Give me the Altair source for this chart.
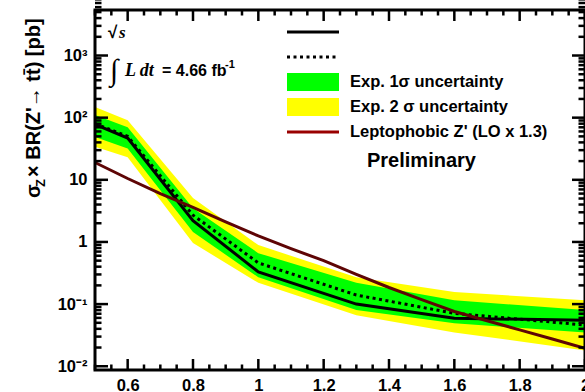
import altair as alt
import pandas as pd

# ---------------- data ----------------
mass = [0.5, 0.6, 0.8, 1.0, 1.3, 1.6, 2.0]
observed = [78, 47, 2.2, 0.33, 0.10, 0.059, 0.055]
expected = [80, 50, 2.7, 0.46, 0.14, 0.071, 0.046]
exp1_lo = [49, 32, 1.44, 0.27, 0.080, 0.049, 0.035]
exp1_hi = [110, 70, 3.5, 0.66, 0.22, 0.115, 0.080]
exp2_lo = [34, 23, 0.96, 0.22, 0.066, 0.035, 0.018]
exp2_hi = [148, 91, 5.1, 0.89, 0.27, 0.156, 0.115]

theory_mass = [0.5, 0.6, 0.7, 0.8, 0.9, 1.0, 1.1, 1.2, 1.3, 1.4, 1.5, 1.6, 1.7, 1.8, 1.9, 2.0]
theory_xsec = [19, 10.5, 6.0, 3.6, 2.1, 1.25, 0.78, 0.50, 0.30, 0.185, 0.118,
               0.076, 0.054, 0.0385, 0.0275, 0.0195]

x_major = [0.6, 0.8, 1.0, 1.2, 1.4, 1.6, 1.8, 2.0]
x_minor = [0.5, 0.55, 0.65, 0.7, 0.75, 0.85, 0.9, 0.95, 1.05, 1.1, 1.15, 1.25, 1.3, 1.35,
           1.45, 1.5, 1.55, 1.65, 1.7, 1.75, 1.85, 1.9, 1.95]
y_major = [0.01, 0.1, 1, 10, 100, 1000]
y_minor = [m * d for d in [0.01, 0.1, 1, 10, 100, 1000] for m in range(2, 10)]

W, H = 490, 360
FONT = "Liberation Sans"

df = pd.DataFrame(dict(mass=mass, observed=observed, expected=expected,
                       exp1_lo=exp1_lo, exp1_hi=exp1_hi, exp2_lo=exp2_lo, exp2_hi=exp2_hi))
th = pd.DataFrame(dict(mass=theory_mass, xsec=theory_xsec))

xscale = alt.Scale(domain=[0.5, 2.0], nice=False, zero=False)
yscale = alt.Scale(type="log", domain=[0.0087, 5400], nice=False)

xaxis = alt.Axis(values=x_major, format="~g", title=None, grid=False, ticks=False, tickSize=0,
                 domain=False, labelFont=FONT, labelFontSize=16.5, labelFontWeight="bold",
                 labelColor="black", labelPadding=7, labelFlush=False, labelOverlap=False)
yaxis = alt.Axis(values=y_major, title=None, grid=False, ticks=False, tickSize=0, domain=False,
                 labelFont=FONT, labelFontSize=16.5, labelFontWeight="bold", labelColor="black",
                 labelPadding=8, labelFlush=False, labelOverlap=False,
                 labelExpr="datum.value >= 999 ? '10³' : datum.value >= 99 ? '10²' : "
                           "datum.value >= 9 ? '10' : datum.value >= 0.9 ? '1' : "
                           "datum.value >= 0.09 ? '10⁻¹' : '10⁻²'")


def X(f):
    return alt.X(f, type="quantitative", scale=xscale, axis=xaxis)


def Y(f):
    return alt.Y(f, type="quantitative", scale=yscale, axis=yaxis)


base = alt.Chart(df)
one = pd.DataFrame({"a": [0]})

yellow = base.mark_area(color="#ffff00").encode(x=X("mass"), y=Y("exp2_lo"), y2="exp2_hi")
green = base.mark_area(color="#00ff00").encode(x=X("mass"), y=Y("exp1_lo"), y2="exp1_hi")
exp_line = base.mark_line(color="black", strokeWidth=3, strokeDash=[3, 3.5]).encode(
    x=X("mass"), y=Y("expected"))
obs_line = base.mark_line(color="black", strokeWidth=3).encode(x=X("mass"), y=Y("observed"))
theory = alt.Chart(th).mark_line(color="#5e0505", strokeWidth=3).encode(x=X("mass"), y=Y("xsec"))

# inward ticks on all four sides
xmaj_df = pd.DataFrame({"t": x_major})
xmin_df = pd.DataFrame({"t": x_minor})
ymaj_df = pd.DataFrame({"v": y_major})
ymin_df = pd.DataFrame({"v": y_minor})

tick_layers = []
for d, ln in [(xmaj_df, 11), (xmin_df, 5.5)]:
    tick_layers.append(alt.Chart(d).mark_rule(color="black", strokeWidth=2.5).encode(
        x=X("t"), y=alt.value(H), y2=alt.value(H - ln)))
    tick_layers.append(alt.Chart(d).mark_rule(color="black", strokeWidth=2.5).encode(
        x=X("t"), y=alt.value(0), y2=alt.value(ln)))
for d, ln in [(ymaj_df, 13), (ymin_df, 6.5)]:
    tick_layers.append(alt.Chart(d).mark_rule(color="black", strokeWidth=2.5).encode(
        y=Y("v"), x=alt.value(0), x2=alt.value(ln)))
    tick_layers.append(alt.Chart(d).mark_rule(color="black", strokeWidth=2.5).encode(
        y=Y("v"), x=alt.value(W), x2=alt.value(W - ln)))

frame = alt.Chart(one).mark_rect(fill="transparent", stroke="black", strokeWidth=3).encode(
    x=alt.value(0), x2=alt.value(W), y=alt.value(0), y2=alt.value(H))

# ---------------- legend ----------------
LX0, LX1 = 192, 244
leg = [
    alt.Chart(one).mark_rule(color="black", strokeWidth=3).encode(
        x=alt.value(LX0), x2=alt.value(LX1), y=alt.value(22)),
    alt.Chart(one).mark_rule(color="black", strokeWidth=3, strokeDash=[3, 3.5]).encode(
        x=alt.value(LX0), x2=alt.value(LX1), y=alt.value(47)),
    alt.Chart(one).mark_rect(color="#00ff00").encode(
        x=alt.value(LX0), x2=alt.value(LX1), y=alt.value(63), y2=alt.value(81)),
    alt.Chart(one).mark_rect(color="#ffff00").encode(
        x=alt.value(LX0), x2=alt.value(LX1), y=alt.value(88), y2=alt.value(106)),
    alt.Chart(one).mark_rule(color="#990000", strokeWidth=3).encode(
        x=alt.value(LX0), x2=alt.value(LX1), y=alt.value(122)),
]
legend_labels = ["Exp. 1σ uncertainty", "Exp. 2 σ uncertainty", "Leptophobic Z' (LO x 1.3)"]
legend_y = [77, 102, 127]
for lab, yy in zip(legend_labels, legend_y):
    leg.append(alt.Chart(one).mark_text(text=lab, align="left", baseline="alphabetic", font=FONT,
                                        fontSize=16.5, fontWeight="bold", color="black").encode(
        x=alt.value(255), y=alt.value(yy)))
leg.append(alt.Chart(one).mark_text(text="Preliminary", align="left", baseline="alphabetic",
                                    font=FONT, fontSize=20, fontWeight="bold", color="black").encode(
    x=alt.value(272), y=alt.value(157)))

# ---------------- top-left annotations ----------------
ann = [
    alt.Chart(one).mark_text(text="√", align="left", baseline="alphabetic", font=FONT,
                             fontSize=17, fontWeight="bold", color="black").encode(
        x=alt.value(13), y=alt.value(28)),
    alt.Chart(one).mark_text(text="s", align="left", baseline="alphabetic", font="Liberation Serif",
                             fontSize=17, fontStyle="italic", fontWeight="bold", color="black").encode(
        x=alt.value(24), y=alt.value(28)),
    alt.Chart(one).mark_text(text="∫", align="left", baseline="alphabetic", font="Liberation Serif",
                             fontSize=30, color="black").encode(
        x=alt.value(15), y=alt.value(70)),
    alt.Chart(one).mark_text(text="L dt", align="left", baseline="alphabetic", font="Liberation Serif",
                             fontSize=18, fontStyle="italic", fontWeight="bold", color="black").encode(
        x=alt.value(30), y=alt.value(66)),
    alt.Chart(one).mark_text(text="= 4.66 fb", align="left", baseline="alphabetic", font=FONT,
                             fontSize=16, fontWeight="bold", color="black").encode(
        x=alt.value(67), y=alt.value(66)),
    alt.Chart(one).mark_text(text="-1", align="left", baseline="alphabetic", font=FONT,
                             fontSize=11, fontWeight="bold", color="black").encode(
        x=alt.value(130), y=alt.value(58)),
]

# ---------------- y-axis title (rotated pieces) ----------------
ytitle = [
    alt.Chart(one).mark_text(text="σ", angle=270, align="left", baseline="alphabetic", font=FONT,
                             fontSize=20, fontWeight="bold", color="black").encode(
        x=alt.value(-55), y=alt.value(188)),
    alt.Chart(one).mark_text(text="Z", angle=270, align="left", baseline="alphabetic", font=FONT,
                             fontSize=13, fontWeight="bold", color="black").encode(
        x=alt.value(-50), y=alt.value(177)),
    alt.Chart(one).mark_text(text=" × BR(Z'→ tt̄) [pb]", angle=270, align="left",
                             baseline="alphabetic", font=FONT, fontSize=20, fontWeight="bold",
                             color="black").encode(
        x=alt.value(-55), y=alt.value(167)),
]

chart = alt.layer(
    yellow, green, exp_line, obs_line, theory, *tick_layers, frame, *leg, *ann, *ytitle
).properties(
    width=W, height=H,
    padding={"left": 95, "top": 10, "right": 0, "bottom": 22},
    autosize=alt.AutoSizeParams(type="none"),
).configure_view(stroke=None).configure(background="white")

chart.save("out.html", embed_options={"renderer": "svg", "actions": False})
